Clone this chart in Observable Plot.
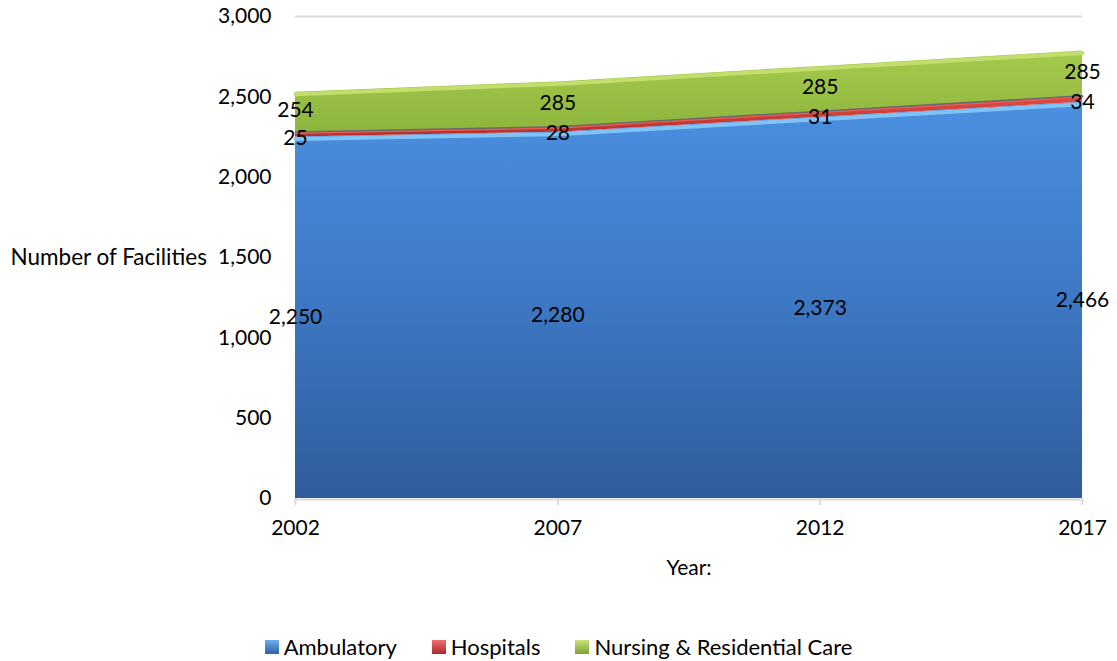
<!DOCTYPE html>
<html><head><meta charset="utf-8">
<script src="https://cdn.jsdelivr.net/npm/d3@7"></script>
<script src="https://cdn.jsdelivr.net/npm/@observablehq/plot@0.6"></script>
<style>
body{margin:0;background:#fff;font-family:Lato,"Liberation Sans",sans-serif;}
#legend{display:flex;justify-content:center;gap:35px;font-size:22px;color:#000;margin-top:15px;padding-left:0;}
#legend span{display:inline-flex;align-items:center;}
</style></head><body>
<div id="chart"></div>
<div id="legend"></div>
<script>
const years = [2002, 2007, 2012, 2017];
const series = ["Ambulatory", "Hospitals", "Nursing & Residential Care"];
const ambulatory = [2250, 2280, 2373, 2466];
const hospitals = [25, 28, 31, 34];
const nursing = [254, 285, 285, 285];
const yTicks = [0, 500, 1000, 1500, 2000, 2500, 3000];

const values = [ambulatory, hospitals, nursing];
const colors = ["url(#gBlue)", "url(#gRed)", "url(#gGreen)"];
const edgeColors = ["#7fc3f7", "#ef5a55", "#c3de6c"];

const data = [];
series.forEach((s, i) => years.forEach((y, j) => data.push({series: s, year: y, value: values[i][j]})));

const stacked = [];
years.forEach((y, j) => {
  let base = 0;
  series.forEach((s, i) => {
    const v = values[i][j];
    stacked.push({series: s, idx: i, year: y, value: v, y1: base, y2: base + v, mid: base + v / 2});
    base += v;
  });
});

const labelDy = [0, 3, -2];

const W = 1117, H = 618;
const plot = Plot.plot({
  width: W, height: H,
  marginTop: 16, marginBottom: H - 498, marginLeft: 295, marginRight: 35,
  style: {fontFamily: "Lato, 'Liberation Sans', sans-serif", fontSize: "21px", color: "#000", background: "#fff"},
  x: {type: "linear", domain: [2002, 2017], ticks: years, tickFormat: d => String(d)},
  y: {domain: [0, 3000], ticks: yTicks, tickFormat: d3.format(",")},
  marks: [
    Plot.ruleY(yTicks.filter(d => d > 0), {stroke: "#d9d9d9", strokeWidth: 2}),
    Plot.areaY(data, {x: "year", y: "value", z: "series", fill: d => colors[series.indexOf(d.series)], order: series}),
    ...series.map((s, i) => Plot.line(stacked.filter(d => d.idx === i), {x: "year", y: "y2", stroke: edgeColors[i], strokeWidth: i === 1 ? 2 : 4, dy: i === 1 ? 0 : 2})),
    Plot.line(stacked.filter(d => d.idx === 1), {x: "year", y: "y2", stroke: "#6b6b6b", strokeWidth: 1.5, dy: -1}),
    Plot.ruleY([0], {stroke: "#d9d9d9", strokeWidth: 2, dy: 1}),
    Plot.axisX({ticks: years, tickFormat: d => String(d), tickSize: 7, tickPadding: 15, stroke: "#d9d9d9", strokeWidth: 2, fontSize: 21,
      label: "Year:", labelAnchor: "center", labelArrow: "none", labelOffset: 76}),
    Plot.axisY({ticks: yTicks, tickFormat: d3.format(","), tickSize: 0, tickPadding: 24, fontSize: 21, label: null}),
    Plot.text(["Number of Facilities"], {frameAnchor: "left", dx: -285, textAnchor: "start", fontSize: 22.5, fill: "#000"}),
    ...series.map((s, i) => Plot.text(stacked.filter(d => d.idx === i), {x: "year", y: "mid", dy: labelDy[i], text: d => d3.format(",")(d.value), fontSize: 21, fill: "#000"}))
  ]
});

const ns = "http://www.w3.org/2000/svg";
const defs = document.createElementNS(ns, "defs");
defs.innerHTML = `
<linearGradient id="gBlue" x1="0" y1="0" x2="0" y2="1">
  <stop offset="0" stop-color="#4a90e0"/><stop offset="0.5" stop-color="#3d78c4"/><stop offset="1" stop-color="#305c9b"/></linearGradient>
<linearGradient id="gRed" x1="0" y1="0" x2="0" y2="1">
  <stop offset="0" stop-color="#e04b45"/><stop offset="1" stop-color="#b3312c"/></linearGradient>
<linearGradient id="gGreen" x1="0" y1="0" x2="0" y2="1">
  <stop offset="0" stop-color="#a5cb4d"/><stop offset="1" stop-color="#8db43c"/></linearGradient>
<linearGradient id="lBlue" x1="0" y1="0" x2="0" y2="1"><stop offset="0" stop-color="#6ab0f0"/><stop offset="1" stop-color="#2f5f9f"/></linearGradient>
<linearGradient id="lRed" x1="0" y1="0" x2="0" y2="1"><stop offset="0" stop-color="#f07070"/><stop offset="1" stop-color="#a82a25"/></linearGradient>
<linearGradient id="lGreen" x1="0" y1="0" x2="0" y2="1"><stop offset="0" stop-color="#c8e27a"/><stop offset="1" stop-color="#7da332"/></linearGradient>`;
plot.insertBefore(defs, plot.firstChild);
document.getElementById("chart").appendChild(plot);

const lg = ["lBlue", "lRed", "lGreen"];
const legend = document.getElementById("legend");
series.forEach((s, i) => {
  const sp = document.createElement("span");
  sp.innerHTML = `<svg width="14" height="14" style="margin-right:5px"><rect width="14" height="14" fill="url(#${lg[i]})"/></svg>${s}`;
  legend.appendChild(sp);
});
</script>
</body></html>
